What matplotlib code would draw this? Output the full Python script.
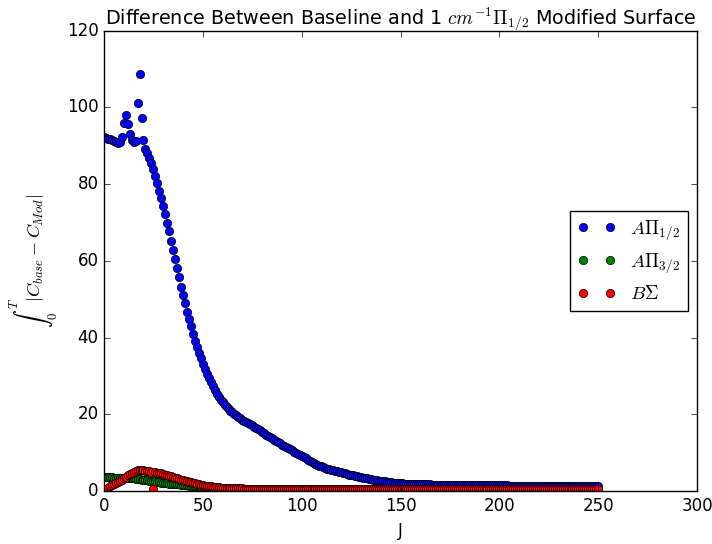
import matplotlib
matplotlib.use("Agg")
import matplotlib.pyplot as plt

plt.style.use("classic")

# Rotational quantum number J
J = list(range(0, 251))

# Integrated |C_base - C_Mod| for the A-Pi(1/2) state
a_pi_half = [
    92.3, 92.1, 91.9, 91.7, 91.5, 91.2, 91.0, 90.8, 90.9, 92.3,
    95.9, 98.1, 95.7, 93.1, 91.6, 90.9, 91.2, 101.1, 108.8, 97.2,
    91.6, 89.2, 88.1, 86.8, 85.5, 84.0, 82.2, 80.4, 78.3, 76.4,
    74.2, 72.2, 69.8, 67.7, 65.1, 62.9, 60.4, 58.1, 55.7, 53.3,
    51.0, 49.0, 46.8, 44.8, 42.9, 41.0, 39.2, 37.6, 36.1, 34.6,
    33.2, 31.9, 30.6, 29.4, 28.3, 27.3, 26.3, 25.4, 24.6, 23.8,
    23.1, 22.5, 21.9, 21.4, 20.9, 20.5, 20.1, 19.7, 19.3, 19.0,
    18.6, 18.3, 18.0, 17.7, 17.4, 17.1, 16.8, 16.5, 16.1, 15.8,
    15.4, 15.1, 14.7, 14.4, 14.0, 13.7, 13.4, 13.0, 12.7, 12.4,
    12.1, 11.8, 11.5, 11.2, 10.9, 10.6, 10.3, 10.0, 9.7, 9.4,
    9.1, 8.8, 8.5, 8.2, 7.9, 7.6, 7.3, 7.0, 6.8, 6.6,
    6.4, 6.2, 6.0, 5.8, 5.7, 5.5, 5.4, 5.3, 5.1, 5.0,
    4.9, 4.7, 4.6, 4.5, 4.3, 4.2, 4.1, 4.0, 3.8, 3.7,
    3.6, 3.5, 3.4, 3.3, 3.2, 3.1, 3.0, 2.9, 2.8, 2.7,
    2.7, 2.6, 2.5, 2.4, 2.4, 2.3, 2.2, 2.2, 2.1, 2.1,
    2.0, 2.0, 1.9, 1.9, 1.9, 1.8, 1.8, 1.8, 1.8, 1.7,
    1.7, 1.7, 1.7, 1.7, 1.7, 1.7, 1.6, 1.6, 1.6, 1.6,
    1.6, 1.6, 1.6, 1.6, 1.6, 1.6, 1.6, 1.6, 1.6, 1.6,
    1.6, 1.6, 1.6, 1.6, 1.6, 1.5, 1.5, 1.5, 1.5, 1.5,
    1.5, 1.5, 1.5, 1.5, 1.5, 1.5, 1.5, 1.5, 1.5, 1.5,
    1.5, 1.5, 1.5, 1.5, 1.5, 1.4, 1.4, 1.4, 1.4, 1.4,
    1.4, 1.4, 1.4, 1.4, 1.4, 1.4, 1.4, 1.4, 1.4, 1.4,
    1.4, 1.4, 1.4, 1.4, 1.4, 1.3, 1.3, 1.3, 1.3, 1.3,
    1.3, 1.3, 1.3, 1.3, 1.3, 1.3, 1.3, 1.3, 1.3, 1.3,
    1.3, 1.3, 1.3, 1.3, 1.3, 1.3, 1.2, 1.2, 1.2, 1.2,
    1.2,
]

# Integrated |C_base - C_Mod| for the A-Pi(3/2) state
a_pi_3half = [
    3.6, 3.6, 3.6, 3.6, 3.6, 3.5, 3.5, 3.5, 3.5, 3.5,
    3.4, 3.4, 3.4, 3.3, 3.3, 3.3, 3.2, 3.2, 3.1, 3.0,
    2.9, 2.9, 2.8, 2.7, 2.6, 2.6, 2.5, 2.4, 2.3, 2.2,
    2.1, 2.1, 2.0, 1.9, 1.9, 1.8, 1.8, 1.7, 1.7, 1.6,
    1.6, 1.5, 1.5, 1.4, 1.4, 1.3, 1.3, 1.2, 1.2, 1.1,
    1.1, 1.0, 1.0, 0.9, 0.9, 0.9, 0.8, 0.8, 0.8, 0.7,
    0.7, 0.7, 0.7, 0.7, 0.6, 0.6, 0.6, 0.6, 0.6, 0.6,
    0.6, 0.5, 0.5, 0.5, 0.5, 0.5, 0.5, 0.5, 0.5, 0.5,
    0.5, 0.5, 0.5, 0.5, 0.5, 0.4, 0.4, 0.4, 0.4, 0.4,
    0.4, 0.4, 0.4, 0.4, 0.4, 0.4, 0.4, 0.4, 0.4, 0.4,
    0.4, 0.4, 0.4, 0.4, 0.4, 0.4, 0.4, 0.4, 0.4, 0.4,
    0.4, 0.4, 0.4, 0.4, 0.4, 0.4, 0.4, 0.4, 0.4, 0.4,
    0.3, 0.3, 0.3, 0.3, 0.3, 0.3, 0.3, 0.3, 0.3, 0.3,
    0.3, 0.3, 0.3, 0.3, 0.3, 0.3, 0.3, 0.3, 0.3, 0.3,
    0.3, 0.3, 0.3, 0.3, 0.3, 0.3, 0.3, 0.3, 0.3, 0.3,
    0.3, 0.3, 0.3, 0.3, 0.3, 0.3, 0.3, 0.3, 0.3, 0.3,
    0.3, 0.3, 0.3, 0.3, 0.3, 0.3, 0.3, 0.3, 0.3, 0.3,
    0.3, 0.3, 0.3, 0.3, 0.3, 0.3, 0.3, 0.3, 0.3, 0.3,
    0.3, 0.3, 0.3, 0.3, 0.3, 0.3, 0.3, 0.3, 0.3, 0.3,
    0.3, 0.3, 0.3, 0.3, 0.3, 0.3, 0.3, 0.3, 0.3, 0.3,
    0.3, 0.3, 0.3, 0.3, 0.3, 0.3, 0.3, 0.3, 0.3, 0.3,
    0.3, 0.3, 0.3, 0.3, 0.3, 0.3, 0.3, 0.3, 0.3, 0.3,
    0.3, 0.3, 0.3, 0.3, 0.3, 0.3, 0.3, 0.3, 0.3, 0.3,
    0.3, 0.3, 0.3, 0.3, 0.3, 0.3, 0.3, 0.3, 0.3, 0.3,
    0.3, 0.3, 0.3, 0.3, 0.3, 0.3, 0.3, 0.3, 0.3, 0.3,
    0.3,
]

# Integrated |C_base - C_Mod| for the B-Sigma state
b_sigma = [
    0.3, 0.6, 0.9, 1.2, 1.5, 1.8, 2.1, 2.4, 2.7, 2.9,
    3.3, 3.7, 4.1, 4.5, 4.8, 5.0, 5.2, 5.4, 5.6, 5.5,
    5.4, 5.3, 5.2, 5.1, 5.0, 0.4, 4.9, 4.8, 4.7, 4.6,
    4.4, 4.3, 4.1, 4.0, 3.8, 3.6, 3.5, 3.3, 3.1, 3.0,
    2.9, 2.7, 2.6, 2.4, 2.3, 2.1, 2.0, 1.9, 1.7, 1.6,
    1.5, 1.4, 1.3, 1.3, 1.2, 1.1, 1.1, 1.0, 1.0, 0.9,
    0.9, 0.9, 0.8, 0.8, 0.8, 0.8, 0.7, 0.7, 0.7, 0.7,
    0.7, 0.6, 0.6, 0.6, 0.6, 0.6, 0.6, 0.6, 0.6, 0.6,
    0.6, 0.6, 0.6, 0.6, 0.6, 0.5, 0.5, 0.5, 0.5, 0.5,
    0.5, 0.5, 0.5, 0.5, 0.5, 0.5, 0.5, 0.5, 0.5, 0.5,
    0.5, 0.5, 0.5, 0.5, 0.5, 0.5, 0.5, 0.5, 0.5, 0.5,
    0.5, 0.5, 0.5, 0.5, 0.5, 0.5, 0.5, 0.5, 0.5, 0.5,
    0.5, 0.5, 0.5, 0.5, 0.5, 0.5, 0.5, 0.5, 0.5, 0.5,
    0.5, 0.5, 0.5, 0.5, 0.5, 0.5, 0.5, 0.5, 0.5, 0.5,
    0.5, 0.5, 0.5, 0.5, 0.5, 0.5, 0.5, 0.5, 0.5, 0.5,
    0.4, 0.4, 0.4, 0.4, 0.4, 0.4, 0.4, 0.4, 0.4, 0.4,
    0.4, 0.4, 0.4, 0.4, 0.4, 0.4, 0.4, 0.4, 0.4, 0.4,
    0.4, 0.4, 0.4, 0.4, 0.4, 0.4, 0.4, 0.4, 0.4, 0.4,
    0.4, 0.4, 0.4, 0.4, 0.4, 0.4, 0.4, 0.4, 0.4, 0.4,
    0.4, 0.4, 0.4, 0.4, 0.4, 0.4, 0.4, 0.4, 0.4, 0.4,
    0.4, 0.4, 0.4, 0.4, 0.4, 0.4, 0.4, 0.4, 0.4, 0.4,
    0.4, 0.4, 0.4, 0.4, 0.4, 0.4, 0.4, 0.4, 0.4, 0.4,
    0.4, 0.4, 0.4, 0.4, 0.4, 0.4, 0.4, 0.4, 0.4, 0.4,
    0.4, 0.4, 0.4, 0.4, 0.4, 0.4, 0.4, 0.4, 0.4, 0.4,
    0.4, 0.4, 0.4, 0.4, 0.4, 0.4, 0.4, 0.4, 0.4, 0.4,
    0.4,
]

labels = [r"$A\Pi_{1/2}$", r"$A\Pi_{3/2}$", r"$B\Sigma$"]

fig = plt.figure(figsize=(7.12, 5.44), dpi=100)
ax = fig.add_axes([0.146, 0.0974, 0.833, 0.846])

ax.plot(J, a_pi_half, "bo", markersize=6, label=labels[0])
ax.plot(J, a_pi_3half, "go", markersize=6, label=labels[1])
ax.plot(J, b_sigma, "ro", markersize=6, label=labels[2])

ax.set_xlim(0, 300)
ax.set_ylim(0, 120)
ax.set_xlabel("J")
ax.set_ylabel(r"$\int_0^T |C_{base} - C_{Mod}|$", fontsize=13)
ax.set_title(r"Difference Between Baseline and 1 $cm^{-1}\Pi_{1/2}$ Modified Surface",
             fontsize=13.8)
ax.legend(loc="center right", numpoints=2, fontsize=13.5)

fig.savefig("out.png", dpi=100)
